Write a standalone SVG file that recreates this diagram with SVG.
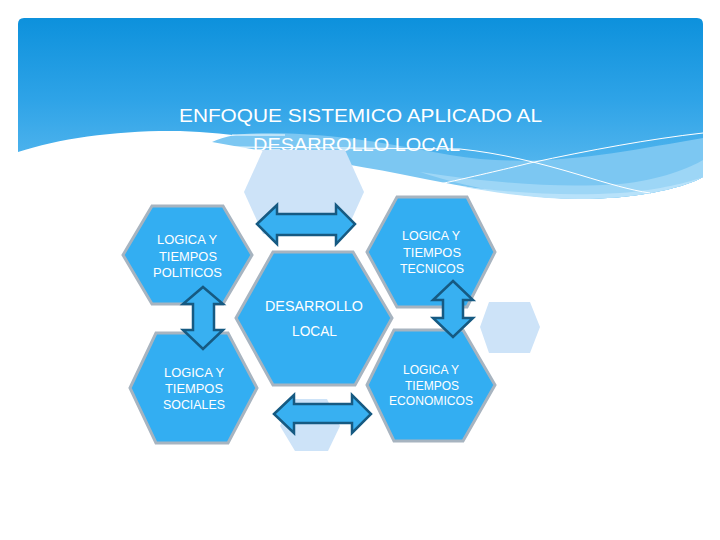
<svg xmlns="http://www.w3.org/2000/svg" width="720" height="540" viewBox="0 0 720 540">
<defs>
<linearGradient id="hdr" x1="0" y1="18" x2="0" y2="180" gradientUnits="userSpaceOnUse">
<stop offset="0" stop-color="#0d91dc"/>
<stop offset="0.5" stop-color="#2ea3e7"/>
<stop offset="1" stop-color="#5ab9ef"/>
</linearGradient>
<clipPath id="hc"><path d="M18,24 Q18,18 24,18 L697,18 Q703,18 703,24 L703,260 L18,260 Z"/></clipPath>
<style>
.hex{fill:#33aef2;stroke:#a7b4c0;stroke-width:3;stroke-linejoin:miter}
.ghost{fill:#cde3f8;stroke:none}
.arr{fill:#38b0f1;stroke:#165a82;stroke-width:2.5;stroke-linejoin:miter}
.lbl{fill:#ffffff;font-family:"Liberation Sans",Arial,sans-serif;font-size:12.5px;text-anchor:middle}
.ttl{fill:#ffffff;font-family:"Liberation Sans",Arial,sans-serif;font-size:19px}
.wl{fill:none;stroke:#ffffff;stroke-width:1}
</style>
</defs>
<rect width="720" height="540" fill="#ffffff"/>
<g id="header" clip-path="url(#hc)">
<rect x="18" y="18" width="685" height="242" fill="url(#hdr)"/>
<path d="M18,152 C60,138 120,130 180,131 C260,134 330,150 400,167 C460,182 520,198 580,199 C630,199 680,190 703,177 L703,260 L18,260 Z" fill="#ffffff"/>
<path d="M212,142 C228,134 250,133 270,133 C340,134 390,144 450,155 C540,170 620,152 703,138 L703,177 C680,190 630,199 580,199 C520,198 460,186 400,174 C340,162 280,155 212,142 Z" fill="#7cc7f2"/>
<path d="M420,172 C500,184 560,188 620,184 C660,180 690,168 703,160 L703,177 C680,190 630,199 580,199 C520,198 470,188 420,172 Z" fill="#9dd6f6"/>
<path d="M460,186 C520,194 570,196 620,193 C660,190 690,182 703,177 C680,190 630,199 580,199 C540,199 500,194 460,186 Z" fill="#b8e2fa"/>
<path class="wl" d="M230,147 L460,149 C500,153 540,163 580,175 C610,184 630,190 650,193"/>
<path class="wl" d="M440,184 C480,175 510,168 530,163 C590,150 650,139 703,133"/>
<path class="wl" d="M232,135 L285,135"/>
</g>
<g id="title">
<text class="ttl" x="179" y="122" textLength="363" lengthAdjust="spacingAndGlyphs">ENFOQUE SISTEMICO APLICADO AL</text>
<text class="ttl" x="253" y="151" textLength="207" lengthAdjust="spacingAndGlyphs">DESARROLLO LOCAL</text>
</g>
<g id="ghost-top"><polygon class="ghost" points="244,192 263,150 345,150 364,192 345,234 263,234"/></g>
<g id="ghost-right"><polygon class="ghost" points="480,327 489,302 530,302 540,327 530,353 489,353"/></g>
<g id="ghost-bottom"><polygon class="ghost" points="280,426 293,399 327,399 340,426 328,451 295,451"/></g>
<g id="politicos">
<polygon class="hex" points="123,255 152,206 223,206 252,255 223,304 152,304"/>
<text class="lbl" x="187" y="244" textLength="60" lengthAdjust="spacingAndGlyphs">LOGICA Y</text>
<text class="lbl" x="188" y="261" textLength="58" lengthAdjust="spacingAndGlyphs">TIEMPOS</text>
<text class="lbl" x="187.5" y="277" textLength="69" lengthAdjust="spacingAndGlyphs">POLITICOS</text>
</g>
<g id="tecnicos">
<polygon class="hex" points="367,252 397,197 467,197 495,252 467,307 397,307"/>
<text class="lbl" x="431" y="240" textLength="58" lengthAdjust="spacingAndGlyphs">LOGICA Y</text>
<text class="lbl" x="432" y="257" textLength="58" lengthAdjust="spacingAndGlyphs">TIEMPOS</text>
<text class="lbl" x="432" y="273" textLength="64" lengthAdjust="spacingAndGlyphs">TECNICOS</text>
</g>
<g id="desarrollo">
<polygon class="hex" points="236,318 273,252 353,252 392,318 355,385 273,385"/>
<text class="lbl" x="314" y="311" textLength="98" lengthAdjust="spacingAndGlyphs" style="font-size:14px">DESARROLLO</text>
<text class="lbl" x="314.5" y="336" textLength="45" lengthAdjust="spacingAndGlyphs" style="font-size:14px">LOCAL</text>
</g>
<g id="sociales">
<polygon class="hex" points="130,388 156,333 228,333 257,388 228,443 156,443"/>
<text class="lbl" x="194" y="377" textLength="60" lengthAdjust="spacingAndGlyphs">LOGICA Y</text>
<text class="lbl" x="194" y="393" textLength="58" lengthAdjust="spacingAndGlyphs">TIEMPOS</text>
<text class="lbl" x="194" y="409" textLength="62" lengthAdjust="spacingAndGlyphs">SOCIALES</text>
</g>
<g id="economicos">
<polygon class="hex" points="367,385 394,330 463,330 495,385 463,441 394,441"/>
<text class="lbl" x="431" y="374" textLength="56" lengthAdjust="spacingAndGlyphs" style="font-size:12px">LOGICA Y</text>
<text class="lbl" x="432" y="390" textLength="54" lengthAdjust="spacingAndGlyphs" style="font-size:12px">TIEMPOS</text>
<text class="lbl" x="431" y="405" textLength="84" lengthAdjust="spacingAndGlyphs" style="font-size:12px">ECONOMICOS</text>
</g>
<g id="connectors">
<path class="arr" d="M257,224 L277,205 L277,214 L336,214 L336,205 L355,224 L336,244 L336,235 L277,235 L277,244 Z"/>
<path class="arr" d="M274,414 L294,395 L294,404 L352,404 L352,395 L371,414 L352,433 L352,423 L294,423 L294,433 Z"/>
<path class="arr" d="M203,287 L223,304 L214,304 L214,330 L223,330 L203,349 L183,330 L193,330 L193,304 L183,304 Z"/>
<path class="arr" d="M453,281 L473,300 L463,300 L463,318 L473,318 L453,337 L433,318 L443,318 L443,300 L433,300 Z"/>
</g>
</svg>
